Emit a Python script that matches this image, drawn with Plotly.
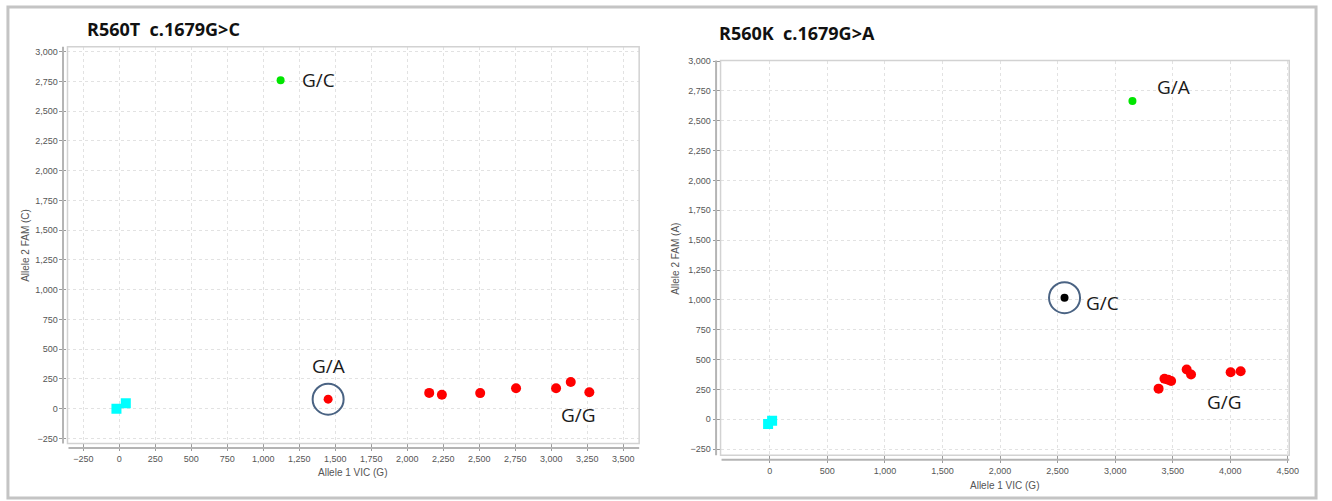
import plotly.graph_objects as go

W, H = 1332, 501

# ---- R560T c.1679G>C ----
t_ctrl_x = [-20, 45]
t_ctrl_y = [0, 45]
t_gc_x = [1120]
t_gc_y = [2760]
t_ga_x = [1450]
t_ga_y = [80]
t_gg_x = [2152, 2240, 2506, 2755, 3033, 3135, 3264]
t_gg_y = [133, 117, 131, 172, 172, 225, 139]

# ---- R560K c.1679G>A ----
k_ctrl_x = [-15, 20]
k_ctrl_y = [-40, -12]
k_ga_x = [3150]
k_ga_y = [2665]
k_gc_x = [2560]
k_gc_y = [1018]
k_gg_x = [3377, 3428, 3460, 3486, 3621, 3659, 4003, 4090]
k_gg_y = [256, 339, 330, 320, 417, 375, 394, 402]

left_xticks = list(range(-250, 3501, 250))
left_yticks = list(range(-250, 3001, 250))
right_xticks = list(range(0, 4501, 500))
right_yticks = list(range(-250, 3001, 250))

titles = ["R560T  c.1679G>C", "R560K  c.1679G>A"]
x_titles = ["Allele 1 VIC (G)", "Allele 1 VIC (G)"]
y_titles = ["Allele 2 FAM (C)", "Allele 2 FAM (A)"]


def px_x(p):
    return p / W


def px_y(p):
    return 1 - p / H


# plot frames in pixels: left, top, right, bottom
frames = [(68, 43, 644, 443), (726, 57, 1299, 455)]

RED = "#ff0000"
GREEN = "#00e600"
CYAN = "#00ffff"

fig = go.Figure()


def sq(x, y, xa, ya):
    fig.add_trace(go.Scatter(x=x, y=y, xaxis=xa, yaxis=ya, mode="markers",
                             marker=dict(symbol="square", size=10, color=CYAN),
                             showlegend=False, hoverinfo="x+y"))


def dot(x, y, xa, ya, color, size):
    fig.add_trace(go.Scatter(x=x, y=y, xaxis=xa, yaxis=ya, mode="markers",
                             marker=dict(symbol="circle", size=size, color=color),
                             showlegend=False, hoverinfo="x+y"))


sq(t_ctrl_x, t_ctrl_y, "x", "y")
dot(t_gc_x, t_gc_y, "x", "y", GREEN, 8)
dot(t_ga_x, t_ga_y, "x", "y", RED, 9)
dot(t_gg_x, t_gg_y, "x", "y", RED, 10)

sq(k_ctrl_x, k_ctrl_y, "x2", "y2")
dot(k_ga_x, k_ga_y, "x2", "y2", GREEN, 8)
dot(k_gc_x, k_gc_y, "x2", "y2", "#000000", 8)
dot(k_gg_x, k_gg_y, "x2", "y2", RED, 10)

tickfont = dict(family="Liberation Sans", size=9, color="#555555")
grid = dict(showgrid=True, gridcolor="#e2e2e2", griddash="dot", gridwidth=1,
            zeroline=False, showline=False, ticks="outside", ticklen=7,
            tickcolor="#9a9a9a", tickwidth=1, tickfont=tickfont,
            tickformat=",d", fixedrange=True)

(l1, t1, r1, b1), (l2, t2, r2, b2) = frames
fig.update_layout(
    width=W, height=H,
    margin=dict(l=0, r=0, t=0, b=0),
    paper_bgcolor="white", plot_bgcolor="white",
    xaxis=dict(domain=[px_x(l1), px_x(r1)], range=[-360, 3610], anchor="y",
               tickvals=left_xticks, **grid),
    yaxis=dict(domain=[px_y(b1), px_y(t1)], range=[-292, 3042], anchor="x",
               tickvals=left_yticks, **grid),
    xaxis2=dict(domain=[px_x(l2), px_x(r2)], range=[-428, 4512], anchor="y2",
                tickvals=right_xticks, **grid),
    yaxis2=dict(domain=[px_y(b2), px_y(t2)], range=[-303, 3005], anchor="x2",
                tickvals=right_yticks, **grid),
)

shapes = []
# outer border
shapes.append(dict(type="rect", xref="paper", yref="paper",
                   x0=px_x(8), x1=px_x(1326), y0=px_y(498), y1=px_y(3),
                   line=dict(color="#c4c4c4", width=3), layer="below"))

for (l, t, r, b) in frames:
    # plot outline
    shapes.append(dict(type="rect", xref="paper", yref="paper",
                       x0=px_x(l), x1=px_x(r), y0=px_y(b), y1=px_y(t),
                       line=dict(color="#d2d2d2", width=1.5), layer="above"))
    # offset axis lines
    shapes.append(dict(type="line", xref="paper", yref="paper",
                       x0=px_x(l + 1), x1=px_x(r), y0=px_y(b + 4.5), y1=px_y(b + 4.5),
                       line=dict(color="#b4b4b4", width=2)))
    shapes.append(dict(type="line", xref="paper", yref="paper",
                       x0=px_x(l - 4.5), x1=px_x(l - 4.5), y0=px_y(b), y1=px_y(t),
                       line=dict(color="#b4b4b4", width=2)))

# circles around the highlighted samples
for xa, ya, cx, cy in [("x", "y", t_ga_x[0], t_ga_y[0]),
                       ("x2", "y2", k_gc_x[0], k_gc_y[0])]:
    shapes.append(dict(type="circle", xref=xa, yref=ya,
                       xsizemode="pixel", ysizemode="pixel",
                       xanchor=cx, yanchor=cy, x0=-15.5, x1=15.5, y0=-15.5, y1=15.5,
                       line=dict(color="#4a6383", width=2)))
fig.update_layout(shapes=shapes)

ann = []
label_font = dict(family="Open Sans", size=19, color="#1a1a1a")
ann.append(dict(x=t_gc_x[0], y=t_gc_y[0], xref="x", yref="y", text="G/C",
                showarrow=False, xshift=38, yshift=0, font=label_font))
ann.append(dict(x=t_ga_x[0], y=t_ga_y[0], xref="x", yref="y", text="G/A",
                showarrow=False, xshift=0, yshift=33, font=label_font))
ann.append(dict(x=t_gg_x[-1], y=t_gg_y[-1], xref="x", yref="y", text="G/G",
                showarrow=False, xshift=-11, yshift=-23, font=label_font))
ann.append(dict(x=k_ga_x[0], y=k_ga_y[0], xref="x2", yref="y2", text="G/A",
                showarrow=False, xshift=41, yshift=14, font=label_font))
ann.append(dict(x=k_gc_x[0], y=k_gc_y[0], xref="x2", yref="y2", text="G/C",
                showarrow=False, xshift=38, yshift=-5, font=label_font))
ann.append(dict(x=k_gg_x[-2], y=k_gg_y[-2], xref="x2", yref="y2", text="G/G",
                showarrow=False, xshift=-6, yshift=-30, font=label_font))

title_font = dict(family="Open Sans", size=18, color="#111111")
for (tx, ty), txt in zip([(86, 25), (722, 29)], titles):
    ann.append(dict(x=px_x(tx), y=px_y(ty), xref="paper", yref="paper",
                    xanchor="left", yanchor="middle", showarrow=False,
                    text="<b>" + txt + "</b>", font=title_font))

axis_font = dict(family="Liberation Sans", size=10, color="#555555")
for (cx, cy), txt in zip([(355, 472), (1012, 485)], x_titles):
    ann.append(dict(x=px_x(cx), y=px_y(cy), xref="paper", yref="paper",
                    xanchor="center", yanchor="middle", showarrow=False,
                    text=txt, font=axis_font))
for (cx, cy), txt in zip([(25, 243), (681, 257)], y_titles):
    ann.append(dict(x=px_x(cx), y=px_y(cy), xref="paper", yref="paper",
                    xanchor="center", yanchor="middle", showarrow=False,
                    text=txt, textangle=-90, font=axis_font))
fig.update_layout(annotations=ann)

fig.write_html("out.html")
